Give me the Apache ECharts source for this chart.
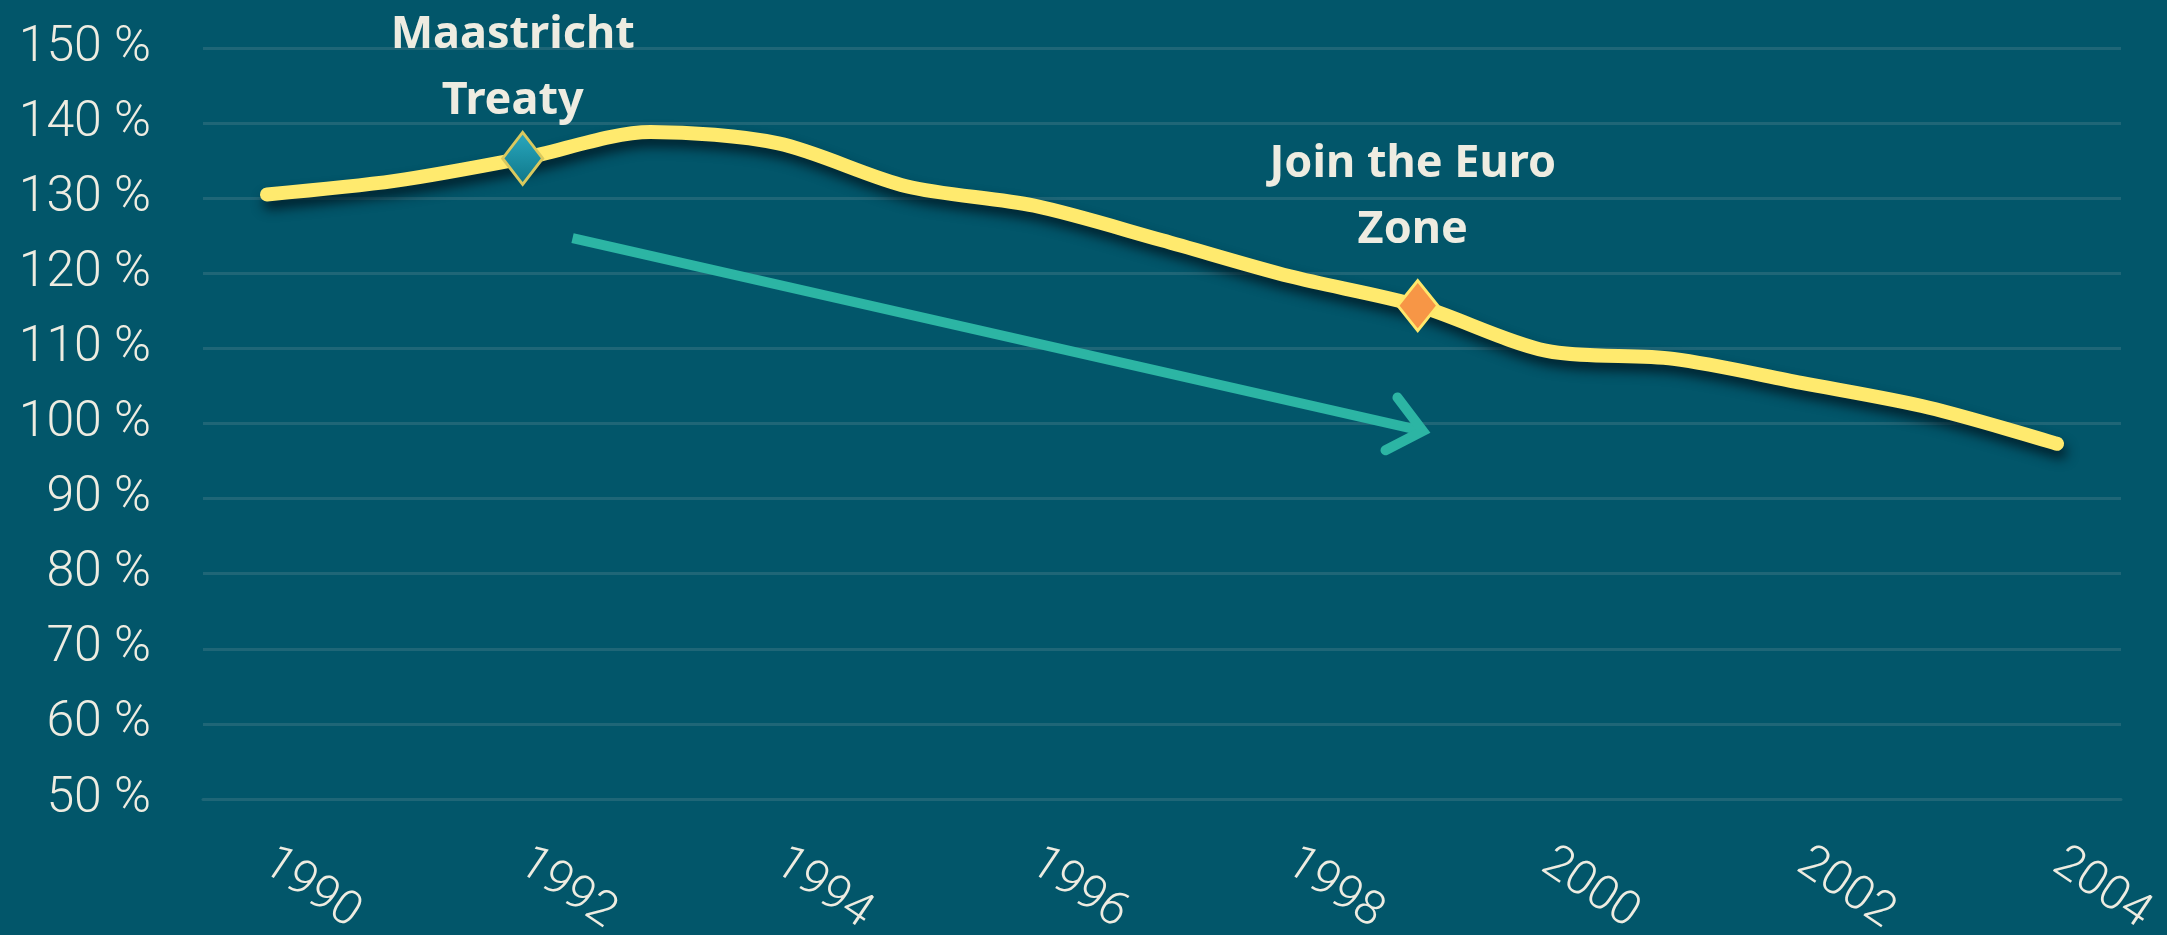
<!DOCTYPE html>
<html>
<head>
<meta charset="utf-8">
<script src="https://cdn.jsdelivr.net/npm/echarts@6/dist/echarts.min.js"></script>
<style>
  html, body { margin: 0; padding: 0; background: #02566A; }
  #chart { width: 2167px; height: 935px; }
</style>
</head>
<body>
<div id="chart"></div>
<script>
// years on the category axis
var years = ["1990", "1991", "1992", "1993", "1994", "1995", "1996", "1997",
  "1998", "1999", "2000", "2001", "2002", "2003", "2004"];
// debt ratio in %
var debt = [130.5, 132.3, 135.3, 138.8, 137.3, 131.6, 129.0, 124.4,
  119.6, 115.7, 109.7, 108.6, 105.4, 102.1, 97.3];
// marked events
var eventYears = ["1992", "1999"];
var eventNames = ["Maastricht\nTreaty", "Join the Euro\nZone"];
// trend arrow: [x0, y0, x1, y1] on a 0..15 band scale
var trendArrow = [[2.89, 124.7, 9.54, 99.0]];

var textColor = "#EEECE1";
var gridColor = "#1F6677";

var eventStyle = {
  "1992": {
    color: new echarts.graphic.LinearGradient(0, 0, 0, 1, [
      { offset: 0, color: "#2AA9C0" },
      { offset: 1, color: "#0E7587" }
    ]),
    borderColor: "#D9C95E",
    size: [40, 52],
    offset: [-10, 0],
    distance: -4
  },
  "1999": {
    color: "#F79646",
    borderColor: "#FFE86B",
    size: [40, 50],
    offset: [-5, 0],
    distance: 16
  }
};

var lineData = debt.map(function (v, i) {
  var k = eventYears.indexOf(years[i]);
  if (k < 0) return v;
  var st = eventStyle[years[i]];
  return {
    value: v,
    symbol: "diamond",
    symbolSize: st.size,
    itemStyle: { color: st.color, borderColor: st.borderColor, borderWidth: 3 },
    label: {
      show: true,
      position: "top",
      distance: st.distance,
      offset: st.offset,
      formatter: eventNames[k],
      color: textColor,
      fontFamily: "Noto Sans",
      fontWeight: "bold",
      fontSize: 45,
      lineHeight: 66,
      align: "center"
    }
  };
});

var chart = echarts.init(document.getElementById("chart"));
var option = {
  backgroundColor: "#02566A",
  animation: false,
  grid: { left: 203, right: 46, top: 48, bottom: 136, outerBoundsMode: "none" },
  xAxis: [
    {
      type: "category",
      data: years,
      boundaryGap: true,
      axisLine: { lineStyle: { color: gridColor, width: 3 } },
      axisTick: { interval: 0, length: 14, lineStyle: { color: gridColor, width: 3 } },
      axisLabel: {
        interval: 1,
        rotate: -34,
        margin: 60,
        color: textColor,
        fontFamily: "Roboto",
        fontWeight: 300,
        fontSize: 48
      }
    },
    { type: "value", min: 0, max: 15, show: false }
  ],
  yAxis: {
    type: "value",
    min: 50,
    max: 150,
    interval: 10,
    axisLine: { show: false },
    axisTick: { show: false },
    splitLine: { lineStyle: { color: gridColor, width: 3 } },
    axisLabel: {
      margin: 52,
      formatter: "{value} %",
      color: textColor,
      fontFamily: "Roboto",
      fontWeight: 300,
      fontSize: 50
    }
  },
  series: [
    {
      type: "line",
      data: lineData,
      symbol: "none",
      smooth: 0.3,
      z: 3,
      lineStyle: {
        color: "#FFEA6E",
        width: 14,
        cap: "round",
        shadowColor: "rgba(0, 20, 30, 0.8)",
        shadowBlur: 12,
        shadowOffsetX: 3,
        shadowOffsetY: 8
      }
    },
    {
      type: "custom",
      xAxisIndex: 1,
      data: trendArrow,
      z: 2,
      renderItem: function (params, api) {
        var p0 = api.coord([api.value(0), api.value(1)]);
        var p1 = api.coord([api.value(2), api.value(3)]);
        var dx = p0[0] - p1[0], dy = p0[1] - p1[1];
        var len = Math.sqrt(dx * dx + dy * dy);
        var ux = dx / len, uy = dy / len;
        var a = 40 * Math.PI / 180, arm = 42;
        var h1 = [p1[0] + arm * (ux * Math.cos(a) - uy * Math.sin(a)),
                  p1[1] + arm * (ux * Math.sin(a) + uy * Math.cos(a))];
        var h2 = [p1[0] + arm * (ux * Math.cos(-a) - uy * Math.sin(-a)),
                  p1[1] + arm * (ux * Math.sin(-a) + uy * Math.cos(-a))];
        var st = { stroke: "#2CB5A4", lineWidth: 10, fill: null, lineCap: "round", lineJoin: "miter" };
        return {
          type: "group",
          children: [
            { type: "line", shape: { x1: p0[0], y1: p0[1], x2: p1[0] + 6 * ux, y2: p1[1] + 6 * uy },
              style: Object.assign({}, st, { lineCap: "butt" }) },
            { type: "polyline", shape: { points: [h1, p1, h2] }, style: st }
          ]
        };
      }
    }
  ]
};
chart.setOption(option);
window.addEventListener("resize", function () {
  chart.resize();
});
</script>
</body>
</html>
